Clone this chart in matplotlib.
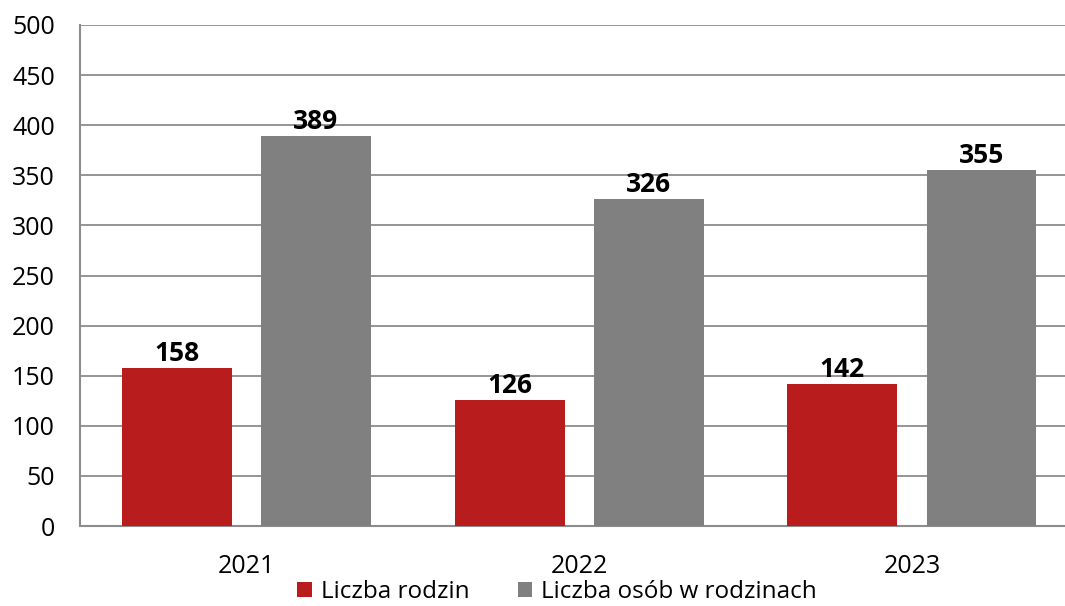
import numpy as np
import matplotlib.pyplot as plt

plt.rcParams['font.family'] = ['Open Sans', 'DejaVu Sans']

years = ["2021", "2022", "2023"]
rodziny = [158, 126, 142]
osoby = [389, 326, 355]

red = "#B81C1C"
gray = "#808080"

fig = plt.figure(figsize=(10.65, 6.06), dpi=100)
ax = fig.add_axes([80 / 1065, 1 - 526 / 606, 985 / 1065, 501 / 606])

x = np.arange(len(years))
w = 0.33
b1 = ax.bar(x - 0.209, rodziny, w, color=red, label="Liczba rodzin", zorder=3)
b2 = ax.bar(x + 0.209, osoby, w, color=gray, label="Liczba osób w rodzinach", zorder=3)

for bars in (b1, b2):
    for r in bars:
        ax.text(r.get_x() + r.get_width() / 2, r.get_height() + 1, str(int(r.get_height())),
                ha="center", va="bottom", fontsize=19, fontweight="bold")

ax.set_ylim(0, 500)
ax.set_yticks(range(0, 501, 50))
ax.set_xlim(-0.5, 2.46)
ax.set_xticks(x)
ax.set_xticklabels(years)
ax.tick_params(axis="both", length=0, labelsize=18, colors="black")
ax.tick_params(axis="x", pad=20)
ax.tick_params(axis="y", pad=18)
ax.yaxis.grid(True, color="#8c8c8c", linewidth=1.3, zorder=0)
for s in ["top", "right"]:
    ax.spines[s].set_visible(False)
for s in ["left", "bottom"]:
    ax.spines[s].set_color("#8c8c8c")
    ax.spines[s].set_linewidth(1.5)

fig.legend(handles=[b1, b2], loc="center", bbox_to_anchor=(557 / 1065, 1 - 592 / 606),
           ncol=2, frameon=False, fontsize=17.5, handlelength=0.6, handleheight=0.6,
           handletextpad=0.35, columnspacing=2.0, borderaxespad=0)

fig.savefig("out.png", dpi=100)
